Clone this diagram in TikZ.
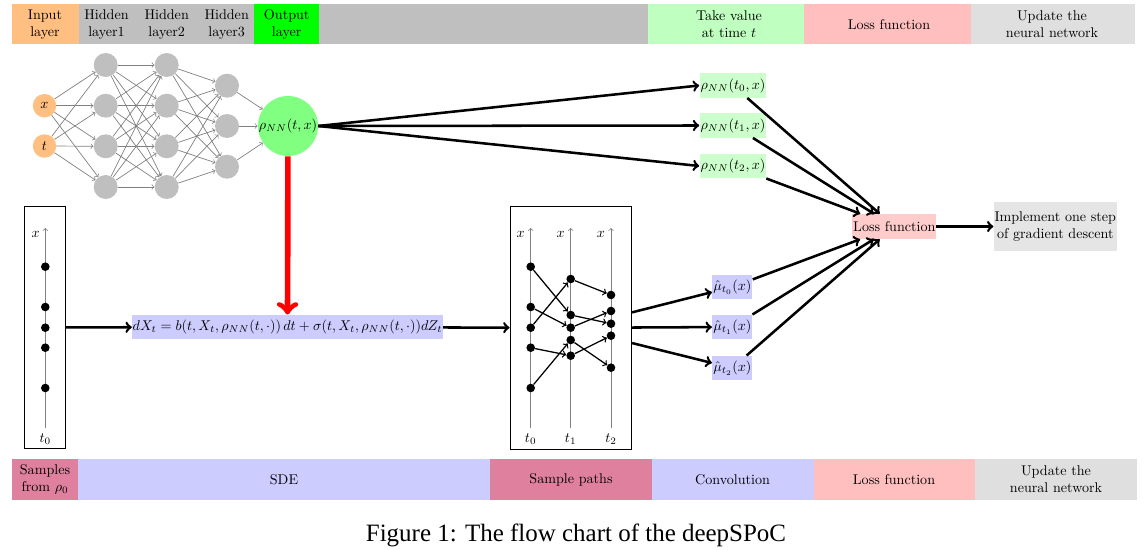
\documentclass[tikz,border=0pt]{standalone}
\usepackage{fontspec}
\newfontfamily\capfont{Liberation Serif}
\usetikzlibrary{positioning}
\begin{document}
\begin{tikzpicture}[x=0.709pt,y=-0.709pt]
\tikzstyle{neuron}=[circle,inner sep=0pt,minimum size=17pt]
\tikzstyle{inneuron}=[neuron,fill=orange!50,minimum size=16.6pt]
\tikzstyle{hidneuron}=[neuron,fill=gray!50]
\tikzstyle{outneuron}=[neuron,fill=green!50,minimum size=40.7pt]
\tikzstyle{nnarrow}=[->,gray,line width=0.5pt]
\tikzstyle{bigarrow}=[->,line width=1.8pt]
\tikzstyle{pathsarrow}=[->,line width=0.9pt]
\tikzstyle{axis}=[->,gray,line width=0.5pt]
\tikzstyle{dot}=[circle,fill,inner sep=0pt,minimum size=6.1pt]
\tikzstyle{lbl}=[inner sep=0.8pt,minimum height=17.3pt]
\tikzstyle{bartext}=[align=center,inner sep=0pt]
\useasboundingbox (0,0) rectangle (1145,550);
% top bar
\foreach \xa/\xb/\col in {12/79/orange!50,79/648/gray!50,254/319/green,648/804/green!25,804/971/red!25,971/1135/gray!25}
  \fill[\col] (\xa,4) rectangle (\xb,44.5);
\node[bartext] (tin) at (45,24.5) {Input\\layer};
\node[bartext] (th1) at (106.5,24.5) {Hidden\\layer1};
\node[bartext] (th2) at (166.7,24.5) {Hidden\\layer2};
\node[bartext] (th3) at (226.7,24.5) {Hidden\\layer3};
\node[bartext] (tout) at (286.7,24.5) {Output\\layer};
\node[bartext] (ttake) at (729,24.5) {Take value\\at time $t$};
\node[bartext] (tloss) at (889,24.5) {Loss function};
\node[bartext] (tupd) at (1052,24.5) {Update the\\neural network};
% bottom bar
\foreach \xa/\xb/\col in {12/78/purple!50,78/490/blue!20,490/652/purple!50,652/814/blue!20,814/975/red!25,975/1137/gray!25}
  \fill[\col] (\xa,459) rectangle (\xb,500);
\node[bartext] (bsamp) at (45,479.5) {Samples\\from $\rho_0$};
\node[bartext] (bsde) at (284,479.5) {SDE};
\node[bartext] (bpaths) at (571,479.5) {Sample paths};
\node[bartext] (bconv) at (732.5,479.5) {Convolution};
\node[bartext] (bloss) at (894,479.5) {Loss function};
\node[bartext] (bupd) at (1056,479.5) {Update the\\neural network};
% neural network
\node[inneuron] (ix) at (44.5,105.7) {$x$};
\node[inneuron] (it) at (44.5,146) {$t$};
\foreach \j/\y in {1/65,2/105.7,3/146.3,4/187} {
  \node[hidneuron] (a\j) at (105.7,\y) {};
  \node[hidneuron] (b\j) at (166.7,\y) {};
}
\foreach \j/\y in {1/85.7,2/126,3/166.7}
  \node[hidneuron] (c\j) at (227,\y) {};
\node[outneuron] (out) at (288,126) {$\rho_{NN}(t,x)$};
\foreach \s in {ix,it} \foreach \d in {1,...,4} \draw[nnarrow] (\s) -- (a\d);
\foreach \s in {1,...,4} \foreach \d in {1,...,4} \draw[nnarrow] (a\s) -- (b\d);
\foreach \s in {1,...,4} \foreach \d in {1,2,3} \draw[nnarrow] (b\s) -- (c\d);
\foreach \s in {1,2,3} \draw[nnarrow] (c\s) -- (out);
% values at given times
\node[lbl,fill=green!20] (r0) at (733,85.5) {$\rho_{NN}(t_0,x)$};
\node[lbl,fill=green!20] (r1) at (733,125.5) {$\rho_{NN}(t_1,x)$};
\node[lbl,fill=green!20] (r2) at (733,166) {$\rho_{NN}(t_2,x)$};
\node[lbl,fill=red!20,inner xsep=0.5pt,minimum height=17.7pt] (loss) at (894.3,226.5) {Loss function};
\node[bartext,fill=gray!20,inner xsep=0.6pt,minimum height=34.5pt] (impl) at (1055.3,226.5) {Implement one step\\of gradient descent};
\node[lbl,fill=blue!20] (m0) at (732.3,287) {$\hat\mu_{t_0}(x)$};
\node[lbl,fill=blue!20] (m1) at (732.3,327) {$\hat\mu_{t_1}(x)$};
\node[lbl,fill=blue!20] (m2) at (732.3,368) {$\hat\mu_{t_2}(x)$};
% samples and sample paths
\node[draw,line width=0.6pt,minimum width=28.6pt,minimum height=171pt] (samp) at (44.85,327.4) {};
\node[draw,line width=0.6pt,minimum width=86.3pt,minimum height=171.8pt] (paths) at (570.85,327.85) {};
\node[lbl,fill=blue!20,inner xsep=0.4pt] (sde) at (287.5,327) {$dX_t=b(t,X_t,\rho_{NN}(t,\cdot))\,dt+\sigma(t,X_t,\rho_{NN}(t,\cdot))dZ_t$};
\draw[axis] (45.3,428) -- (45.3,228);
\node (sx) at (35.7,234) {$x$};
\node (st) at (45.3,439.3) {$t_0$};
\foreach \xx/\n in {530.7/0,570.7/1,611/2} {
  \draw[axis] (\xx,428) -- (\xx,228);
  \node (px\n) at (\xx-10,234) {$x$};
  \node (pt\n) at (\xx,439.3) {$t_\n$};
}
\foreach \k/\y in {1/266.7,2/307,3/327.7,4/347.7,5/388} {
  \node[dot] (s\k) at (45.3,\y) {};
  \node[dot] (p0\k) at (530.7,\y) {};
}
\foreach \k/\y in {1/279,2/315,3/327.7,4/340,5/355.7}
  \node[dot] (p1\k) at (570.7,\y) {};
\foreach \k/\y in {1/295,2/311,3/323.7,4/335.7,5/367.7}
  \node[dot] (p2\k) at (611,\y) {};
\foreach \a/\b in {1/2,2/3,3/1,4/5,5/4} \draw[pathsarrow] (p0\a) -- (p1\b);
\foreach \a/\b in {1/1,2/3,3/2,4/5,5/4} \draw[pathsarrow] (p1\a) -- (p2\b);
% connectors
\draw[->,red,line width=4pt] (out) -- (sde);
\foreach \k in {0,1,2} {
  \draw[bigarrow] (out.east) -- (r\k.west);
  \draw[bigarrow] (r\k) -- (loss);
  \draw[bigarrow] (paths) -- (m\k);
  \draw[bigarrow] (m\k) -- (loss);
}
\draw[bigarrow] (samp) -- (sde);
\draw[bigarrow] (sde) -- (paths);
\draw[bigarrow] (loss) -- (impl);
% caption
\node (cap) at (576,535) {\fontsize{17.7}{21}\capfont Figure 1: The flow chart of the deepSPoC};
\end{tikzpicture}
\end{document}
